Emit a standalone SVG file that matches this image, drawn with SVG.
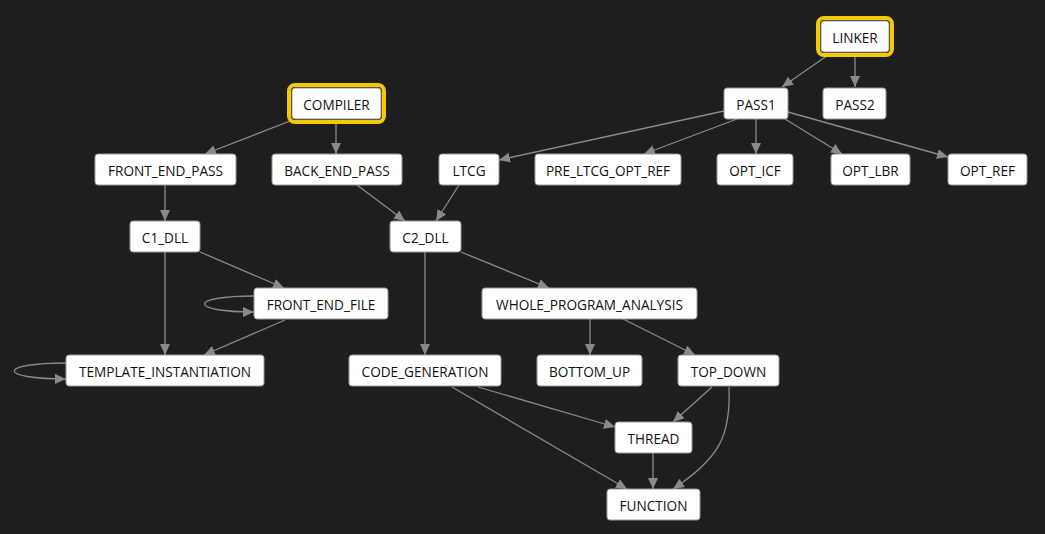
<svg xmlns="http://www.w3.org/2000/svg" width="1045" height="534" viewBox="0 0 1045 534">
<defs>
<marker id="ah" markerUnits="userSpaceOnUse" markerWidth="12" markerHeight="10" refX="11" refY="5" orient="auto">
<path d="M0,0 L11,5 L0,10 Z" fill="#8a8a8a"/>
</marker>
<style>
.n rect.b{fill:#ffffff;stroke:#9a9a9a;stroke-width:1}
.n rect.h{fill:none;stroke:#f5c800;stroke-width:4}
.n text{font-family:"Open Sans","Noto Sans",sans-serif;font-size:13.6px;fill:#111111;text-anchor:middle;dominant-baseline:central}
.e path{fill:none;stroke:#8a8a8a;stroke-width:1.3;marker-end:url(#ah)}
</style>
</defs>
<rect width="1045" height="534" fill="#1e1e1e"/>
<g class="e" id="connectors">
<path d="M831,53 L782,87"/>
<path d="M855,56 L855,87"/>
<path d="M290,121 L205,154"/>
<path d="M336,122 L336,154"/>
<path d="M724,111 L499,160"/>
<path d="M737,119 L644,154"/>
<path d="M756,119 L756,154"/>
<path d="M785,119 L842,154"/>
<path d="M788,112 L948,157"/>
<path d="M165,185 L165,221"/>
<path d="M357,185 L405,221"/>
<path d="M459,185 L436,221"/>
<path d="M200,252 L284,288"/>
<path d="M165,252 L165,355"/>
<path d="M254,296 C188,296 188,312 254,312"/>
<path d="M285,320 L204,355"/>
<path d="M66,363 C-3,363 -3,379 66,379"/>
<path d="M425,252 L425,355"/>
<path d="M461,252 L549,288"/>
<path d="M590,319 L590,355"/>
<path d="M623,319 L695,355"/>
<path d="M478,387 L615,427"/>
<path d="M452,387 L627,489"/>
<path d="M712,387 L673,422"/>
<path d="M729,387 C731,435 720,458 673,489"/>
<path d="M653,453 L653,489"/>
</g>
<g class="n" id="LINKER"><rect class="h" x="818" y="18" width="74" height="37" rx="6"/><rect class="b" x="821" y="21" width="68" height="31" rx="3"/><text x="855" y="37.5">LINKER</text></g>
<g class="n" id="PASS1"><rect class="b" x="724" y="88" width="64" height="31" rx="3"/><text x="756" y="104.5">PASS1</text></g>
<g class="n" id="PASS2"><rect class="b" x="823" y="88" width="63" height="31" rx="3"/><text x="855" y="104.5">PASS2</text></g>
<g class="n" id="COMPILER"><rect class="h" x="289" y="85" width="95" height="37" rx="6"/><rect class="b" x="292" y="88" width="89" height="31" rx="3"/><text x="336.5" y="104.5">COMPILER</text></g>
<g class="n" id="FRONT_END_PASS"><rect class="b" x="95" y="154" width="141" height="31" rx="3"/><text x="165.5" y="170.5">FRONT_END_PASS</text></g>
<g class="n" id="BACK_END_PASS"><rect class="b" x="272" y="154" width="130" height="31" rx="3"/><text x="337" y="170.5">BACK_END_PASS</text></g>
<g class="n" id="LTCG"><rect class="b" x="439" y="154" width="60" height="31" rx="3"/><text x="469" y="170.5">LTCG</text></g>
<g class="n" id="PRE_LTCG_OPT_REF"><rect class="b" x="535" y="154" width="146" height="31" rx="3"/><text x="608" y="170.5">PRE_LTCG_OPT_REF</text></g>
<g class="n" id="OPT_ICF"><rect class="b" x="717" y="154" width="76" height="31" rx="3"/><text x="755" y="170.5">OPT_ICF</text></g>
<g class="n" id="OPT_LBR"><rect class="b" x="831" y="154" width="79" height="31" rx="3"/><text x="870.5" y="170.5">OPT_LBR</text></g>
<g class="n" id="OPT_REF"><rect class="b" x="948" y="154" width="79" height="31" rx="3"/><text x="987.5" y="170.5">OPT_REF</text></g>
<g class="n" id="C1_DLL"><rect class="b" x="130" y="221" width="70" height="31" rx="3"/><text x="165" y="237.5">C1_DLL</text></g>
<g class="n" id="C2_DLL"><rect class="b" x="390" y="221" width="71" height="31" rx="3"/><text x="425.5" y="237.5">C2_DLL</text></g>
<g class="n" id="FRONT_END_FILE"><rect class="b" x="254" y="288" width="134" height="31" rx="3"/><text x="321" y="304.5">FRONT_END_FILE</text></g>
<g class="n" id="WHOLE_PROGRAM_ANALYSIS"><rect class="b" x="482" y="288" width="215" height="31" rx="3"/><text x="589.5" y="304.5">WHOLE_PROGRAM_ANALYSIS</text></g>
<g class="n" id="TEMPLATE_INSTANTIATION"><rect class="b" x="66" y="355" width="198" height="31" rx="3"/><text x="165" y="371.5">TEMPLATE_INSTANTIATION</text></g>
<g class="n" id="CODE_GENERATION"><rect class="b" x="349" y="355" width="152" height="31" rx="3"/><text x="425" y="371.5">CODE_GENERATION</text></g>
<g class="n" id="BOTTOM_UP"><rect class="b" x="537" y="355" width="105" height="31" rx="3"/><text x="589.5" y="371.5">BOTTOM_UP</text></g>
<g class="n" id="TOP_DOWN"><rect class="b" x="678" y="355" width="101" height="31" rx="3"/><text x="728.5" y="371.5">TOP_DOWN</text></g>
<g class="n" id="THREAD"><rect class="b" x="615" y="422" width="77" height="31" rx="3"/><text x="653.5" y="438.5">THREAD</text></g>
<g class="n" id="FUNCTION"><rect class="b" x="607" y="489" width="93" height="31" rx="3"/><text x="653.5" y="505.5">FUNCTION</text></g>
</svg>
